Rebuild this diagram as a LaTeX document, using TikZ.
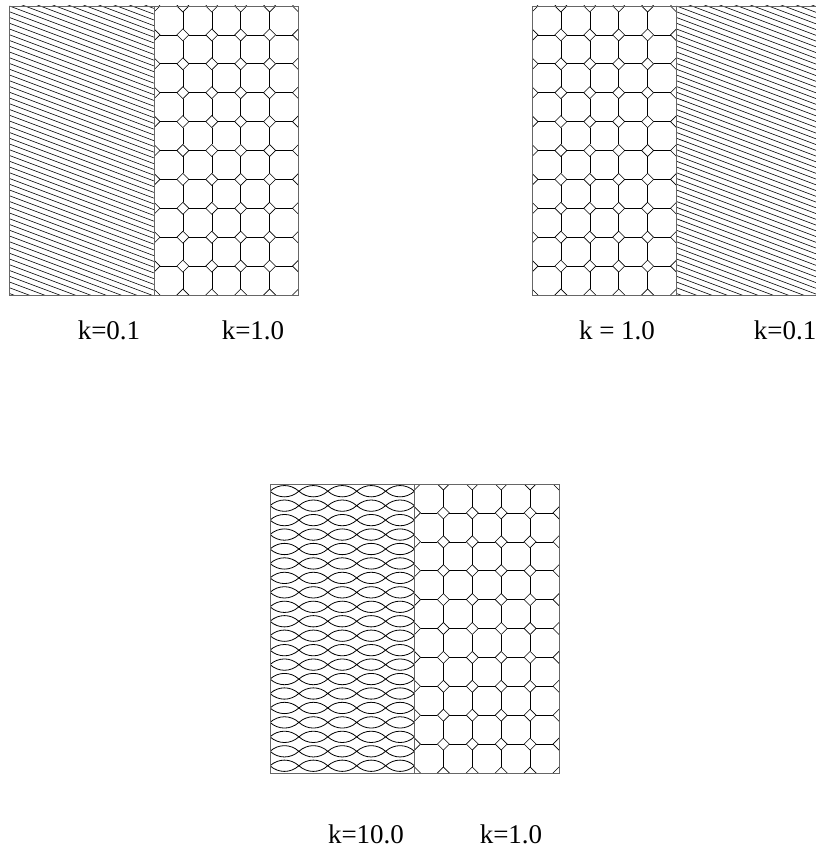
\documentclass[tikz,border=0pt]{standalone}
\usepackage{fontspec}
\setmainfont{Liberation Serif}
\usetikzlibrary{calc}

% panel fills, each 144.5 x 289 from its own origin
\newcommand{\hatchpanel}{%
  \begin{scope}
    \clip (0,0) rectangle (144.5,289);
    \foreach \k in {-10,...,51}
      \draw[tile] (0,5.75*\k) -- ++(144.5,54.2);
  \end{scope}}
\newcommand{\octpanel}{%
  \begin{scope}
    \clip (0,0) rectangle (144.5,289);
    \foreach \i in {0,...,5}
      \foreach \j in {0,...,10}{
        \draw[tile] (28.9*\i-6,28.9*\j) -- ++(6,6) -- ++(6,-6) -- ++(-6,-6) -- cycle;
        \draw[tile] (28.9*\i+6,28.9*\j) -- ++(16.9,0);
        \draw[tile] (28.9*\i,28.9*\j+6) -- ++(0,16.9);
      }
  \end{scope}}
\newcommand{\scalepanel}{%
  \begin{scope}
    \clip (0,0) rectangle (144.5,289);
    \foreach \i in {0,...,4}
      \foreach \j in {-1,...,20}
        \draw[tile,line width=0.8pt] (28.9*\i,14.45*\j+7.2) to[bend left=42] ++(28.9,0) to[bend left=42] ++(-28.9,0);
  \end{scope}}

\begin{document}
\begin{tikzpicture}[x=1pt,y=-1pt,
  frame/.style={draw=black!60,line width=0.9pt},
  tile/.style={line width=0.6pt},
  klabel/.style={anchor=base,inner sep=0pt,font=\fontsize{27}{32}\selectfont}]
\useasboundingbox (0,0) rectangle (815,853);
% ---------- top left ----------
\begin{scope}[shift={(9.5,6)}]
\hatchpanel
\begin{scope}[shift={(144.5,0)}] \octpanel \end{scope}
\draw[frame] (0,0) rectangle (289,289);
\draw[frame] (144.5,0) -- (144.5,289);
\end{scope}
\node[klabel] (kTLa) at (109,339) {k=0.1};
\node[klabel] (kTLb) at (253,339) {k=1.0};
% ---------- top right ----------
\begin{scope}[shift={(532,6)}]
\octpanel
\begin{scope}[shift={(144.5,0)}] \hatchpanel \end{scope}
\draw[frame] (0,0) rectangle (289,289);
\draw[frame] (144.5,0) -- (144.5,289);
\end{scope}
\node[klabel] (kTRa) at (617,339) {k = 1.0};
\node[klabel] (kTRb) at (785,339) {k=0.1};
% ---------- bottom ----------
\begin{scope}[shift={(270,484)}]
\scalepanel
\begin{scope}[shift={(144.5,0)}] \octpanel \end{scope}
\draw[frame] (0,0) rectangle (289,289);
\draw[frame] (144.5,0) -- (144.5,289);
\end{scope}
\node[klabel] (kBa) at (366,843) {k=10.0};
\node[klabel] (kBb) at (511,843) {k=1.0};
\end{tikzpicture}
\end{document}
